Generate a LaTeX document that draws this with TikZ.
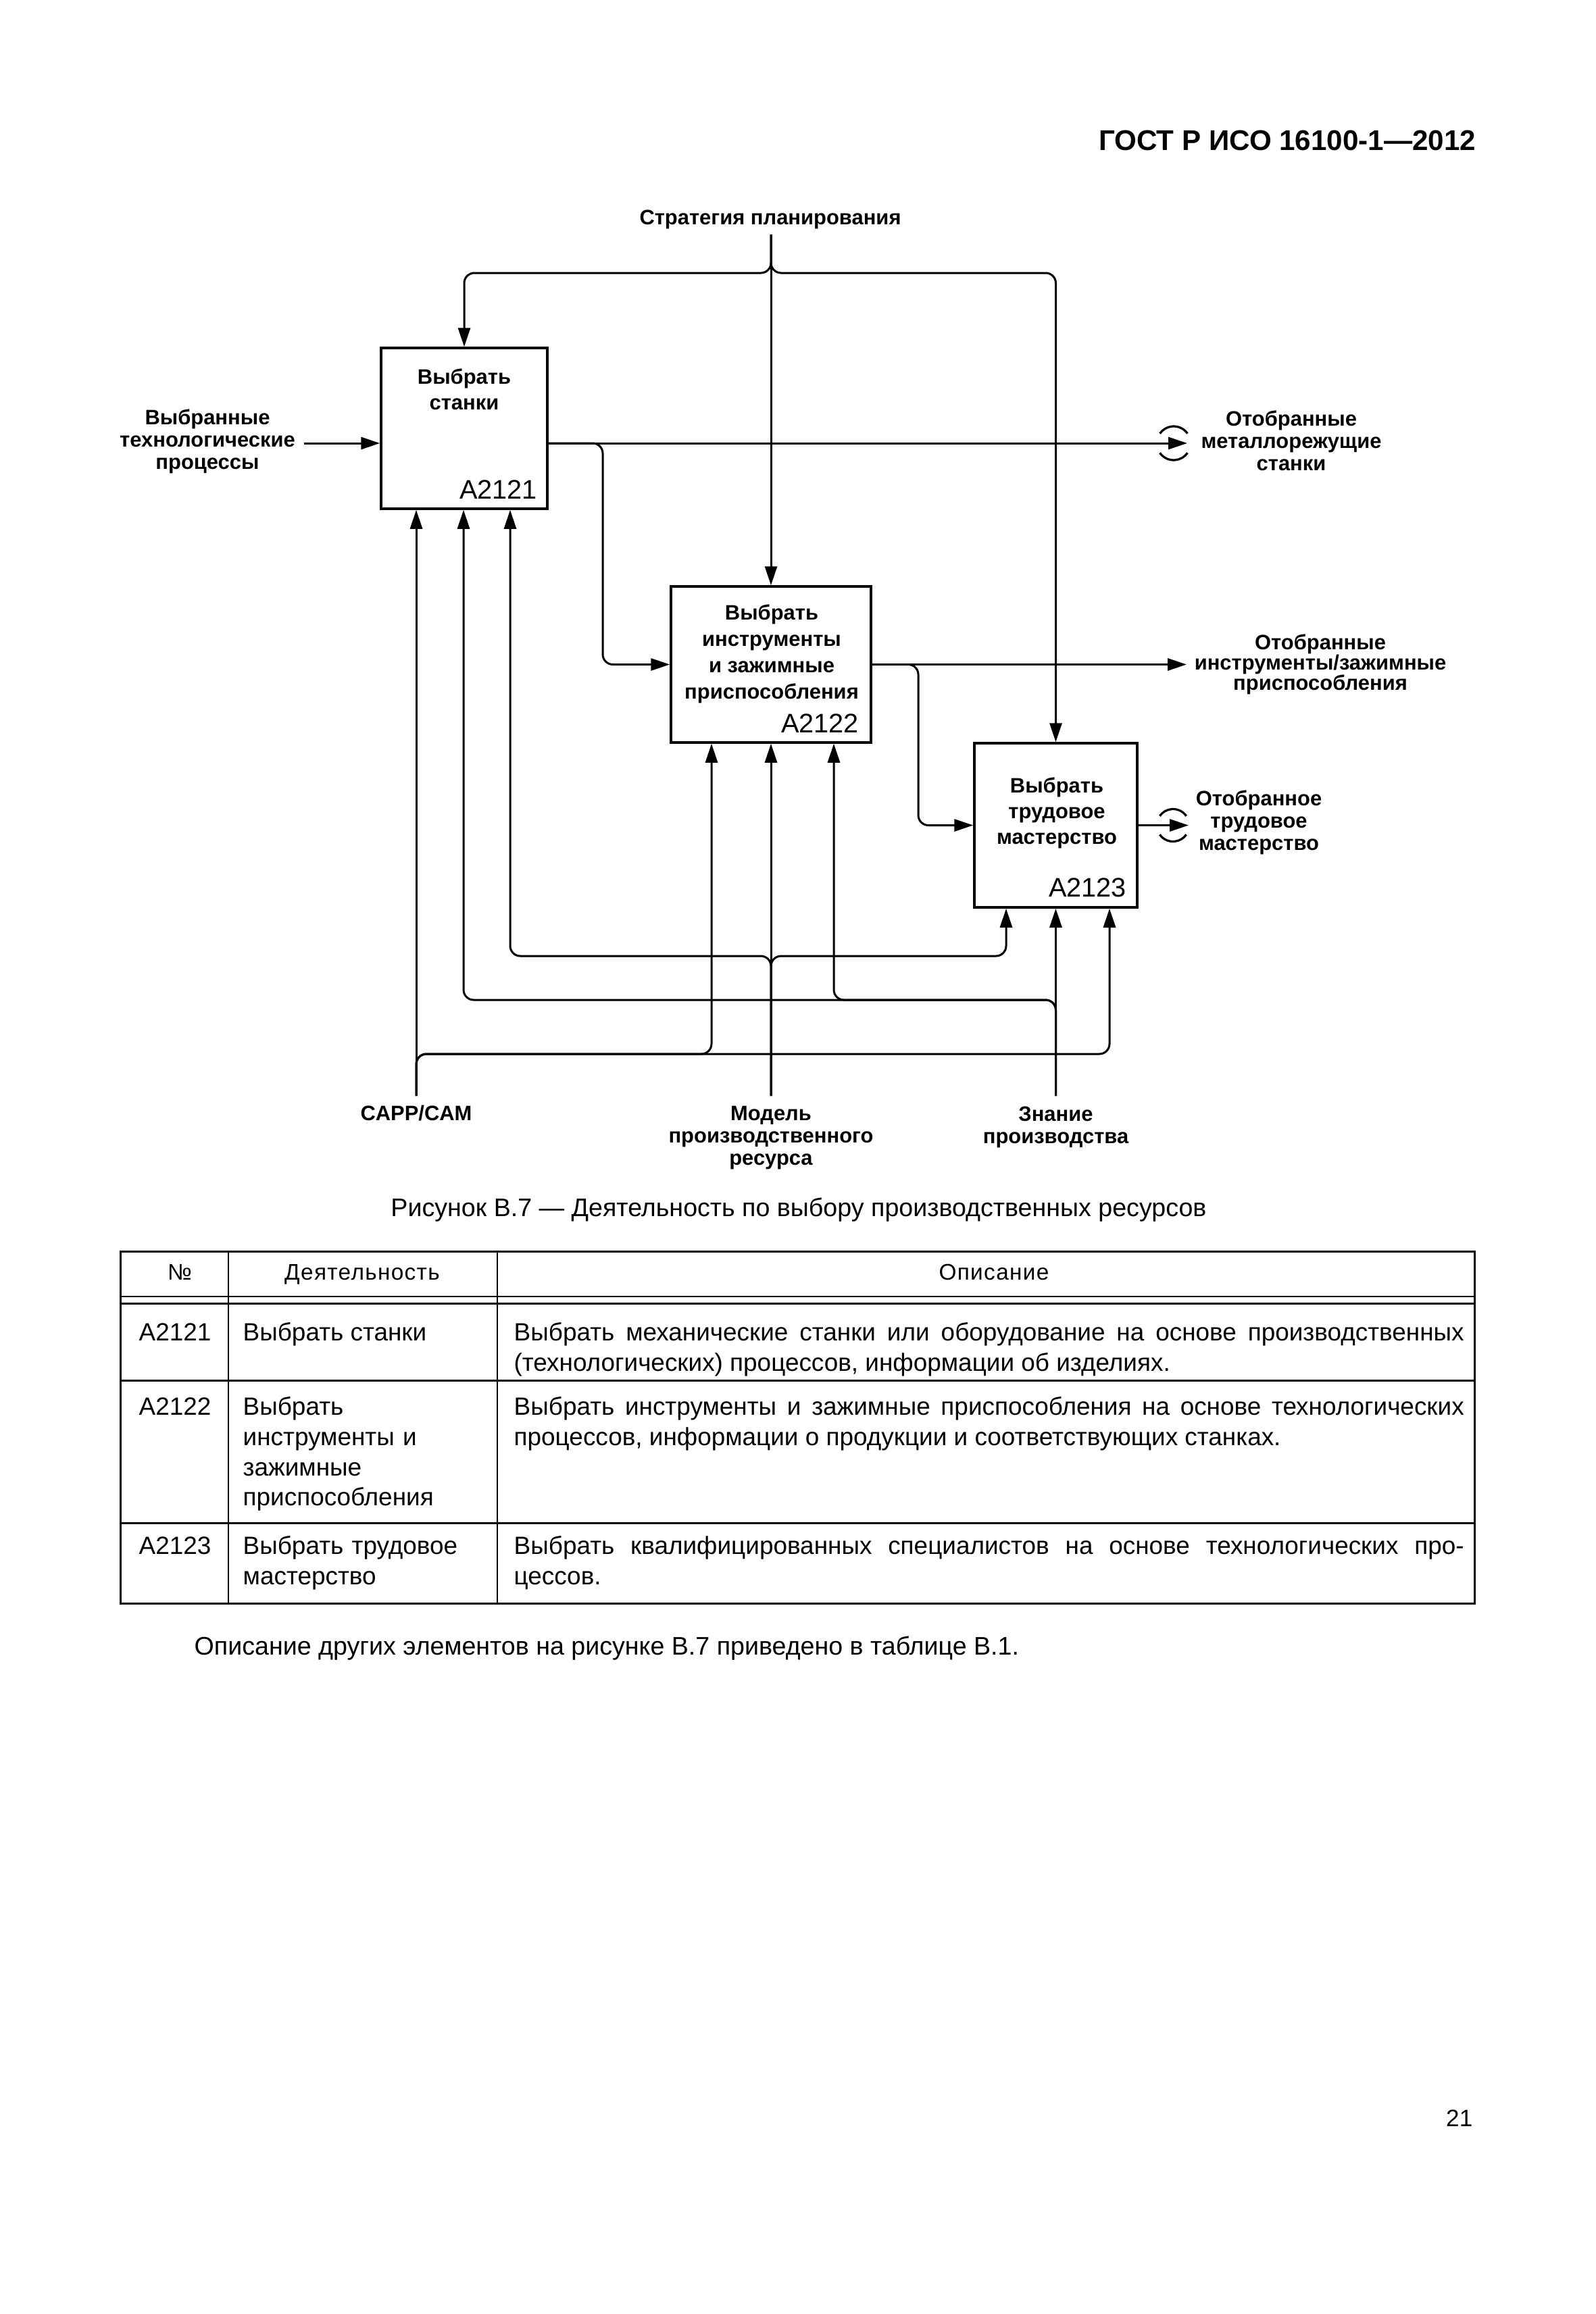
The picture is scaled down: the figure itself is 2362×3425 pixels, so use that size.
\documentclass[tikz,border=0pt]{standalone}
\usepackage{fontspec}
\setmainfont{Liberation Sans}
\usetikzlibrary{arrows.meta,calc}
\begin{document}
\begin{tikzpicture}[x=0.1mm,y=-0.1mm,
  conn/.style={line width=0.3mm, rounded corners=1.5mm},
  arr/.style={conn, -{Triangle[length=2.8mm,width=1.8mm]}},
  box/.style={draw, line width=0.35mm, inner sep=0},
  dlab/.style={font=\bfseries\fontsize{8.8}{9.4}\selectfont, align=center, inner sep=0},
  btxt/.style={font=\bfseries\fontsize{8.8}{10.8}\selectfont, align=center, inner sep=0},
  bid/.style={font=\fontsize{11.3}{12}\selectfont, inner sep=0, anchor=base east},
  tunnel/.style={line width=0.32mm},
  tb/.style={font=\fontsize{10.5}{12.8}\selectfont, inner sep=0, anchor=base west, align=left},
  tmulti/.style={tb, text width=36mm},
  thd/.style={font=\fontsize{9.5}{11}\selectfont\addfontfeatures{LetterSpace=4}, inner sep=0, anchor=base},
  tdesc/.style={tb, text width=140.6mm, align=justify},
  tline/.style={line width=0.2mm},
  tbold/.style={line width=0.3mm}]
\useasboundingbox (0,0) rectangle (2362,3425);
\fill[white] (0,0) rectangle (2362,3425);

% header
\node[font=\bfseries\fontsize{12}{14}\selectfont, inner sep=0, anchor=base east] (hdr) at (2185,222) {ГОСТ Р ИСО 16100-1—2012};

% boxes
\node[box, minimum width=24.6mm, minimum height=23.8mm] (b1) at (687,634) {};
\node[box, minimum width=29.6mm, minimum height=23.1mm] (b2) at (1141,983.5) {};
\node[box, minimum width=24.1mm, minimum height=24.3mm] (b3) at (1562.5,1221.5) {};

\node[btxt] (t1) at (687,576) {Выбрать\\станки};
\node[btxt, font=\bfseries\fontsize{8.8}{11.1}\selectfont] (t2) at (1142,968) {Выбрать\\инструменты\\и зажимные\\приспособления};
\node[btxt] (t3) at (1564,1203) {Выбрать\\трудовое\\мастерство};

\node[bid] (id1) at ($(b1.south east)+(-16,-16)$) {A2121};
\node[bid] (id2) at ($(b2.south east)+(-19,-16)$) {A2122};
\node[bid] (id3) at ($(b3.south east)+(-17,-17)$) {A2123};

% coordinates
\coordinate (strat) at (1141,347);
\coordinate (sL) at (687,404);
\coordinate (sR) at (1562.5,404);
\coordinate (inp) at (450,656);
\coordinate (o1) at (1757,656);
\coordinate (br1) at (892,656);
\coordinate (o2) at (1756,983.5);
\coordinate (br2) at (1359,983.5);
\coordinate (o3) at (1759,1221.5);
\coordinate (capp) at (616,1622);
\coordinate (model) at (1141,1622);
\coordinate (zn) at (1562.5,1622);
\coordinate (mL) at (755,1415);
\coordinate (mR) at (1489,1415);
\coordinate (zL) at (686,1480);
\coordinate (zM) at (1234,1480);
\coordinate (cM) at (1053,1560);
\coordinate (cR) at (1642,1560);
\coordinate (tn1) at (1737,656);
\coordinate (tn3) at (1736,1221.5);

% labels
\node[dlab, anchor=base] (lstrat) at (1140,332) {Стратегия планирования};
\node[dlab] (linp) at (307,653) {Выбранные\\технологические\\процессы};
\node[dlab] (lo1) at (1911,652) {Отобранные\\металлорежущие\\станки};
\node[dlab, font=\bfseries\fontsize{8.8}{8.6}\selectfont] (lo2) at (1954,983.5) {Отобранные\\инструменты/зажимные\\приспособления};
\node[dlab] (lo3) at (1863,1217) {Отобранное\\трудовое\\мастерство};
\node[dlab, anchor=base] (lcapp) at (616,1658) {CAPP/CAM};
\node[dlab] (lmodel) at (1141,1684) {Модель\\производственного\\ресурса};
\node[dlab] (lzn) at (1562.5,1668) {Знание\\производства};

% strategy (control)
\draw[arr] (strat) -- (b2.north);
\draw[arr] (strat) -- (strat |- sL) -- (sL) -- (b1.north);
\draw[arr] (strat) -- (strat |- sR) -- (sR) -- (b3.north);

% input
\draw[arr] (inp) -- (inp -| b1.west);

% outputs
\draw[arr] (b1.east |- o1) -- (o1);
\draw[arr] (b1.east |- o1) -- (br1) -- (br1 |- b2.west) -- (b2.west);
\draw[arr] (b2.east) -- (o2);
\draw[arr] (b2.east) -- (br2) -- (br2 |- b3.west) -- (b3.west);
\draw[arr] (b3.east) -- (o3);

% tunnels
\draw[tunnel] ($(tn1)+(35:2.5mm)$) arc[start angle=35, end angle=145, radius=2.5mm];
\draw[tunnel] ($(tn1)+(215:2.5mm)$) arc[start angle=215, end angle=325, radius=2.5mm];
\draw[tunnel] ($(tn3)+(35:2.4mm)$) arc[start angle=35, end angle=145, radius=2.4mm];
\draw[tunnel] ($(tn3)+(215:2.4mm)$) arc[start angle=215, end angle=325, radius=2.4mm];

% CAPP/CAM
\draw[arr] (capp) -- (capp |- b1.south);
\draw[arr] (capp) -- (capp |- cM) -- (cM) -- (cM |- b2.south);
\draw[arr] (capp) -- (capp |- cR) -- (cR) -- (cR |- b3.south);

% model
\draw[arr] (model) -- (b2.south);
\draw[arr] (model) -- (model |- mL) -- (mL) -- (mL |- b1.south);
\draw[arr] (model) -- (model |- mR) -- (mR) -- (mR |- b3.south);

% knowledge
\draw[arr] (zn) -- (b3.south);
\draw[arr] (zn) -- (zn |- zL) -- (zL) -- (zL |- b1.south);
\draw[arr] (zn) -- (zn |- zM) -- (zM) -- (zM |- b2.south);

% caption
\node[font=\fontsize{10.7}{12}\selectfont, inner sep=0, anchor=base] (cap) at (1182,1800) {Рисунок В.7 — Деятельность по выбору производственных ресурсов};

% table
\draw[tbold] (178,1852) rectangle (2182,2373);
\draw[tline] (338,1852) -- (338,2373);
\draw[tline] (736,1852) -- (736,2373);
\draw[tline] (178,1919) -- (2182,1919);
\draw[tbold] (178,1929) -- (2182,1929);
\draw[tbold] (178,2043) -- (2182,2043);
\draw[tbold] (178,2254) -- (2182,2254);

\node[thd] (h1) at (266,1894) {№};
\node[thd] (h2) at (536,1894) {Деятельность};
\node[thd] (h3) at (1471,1894) {Описание};

\node[tb] (r1a) at (205,1984) {A2121};
\node[tb] (r1b) at (359,1984) {Выбрать станки};
\node[tdesc] (r1c) at (760,1984) {Выбрать механические станки или оборудование на основе производственных\linebreak (технологических) процессов, информации об изделиях.};

\node[tb] (r2a) at (205,2094) {A2122};
\node[tmulti] (r2b) at (359,2094) {Выбрать\\инструменты и\\зажимные\\приспособления};
\node[tdesc] (r2c) at (760,2094) {Выбрать инструменты и зажимные приспособления на основе технологических\linebreak процессов, информации о продукции и соответствующих станках.};

\node[tb] (r3a) at (205,2300) {A2123};
\node[tmulti] (r3b) at (359,2300) {Выбрать трудовое\\мастерство};
\node[tdesc] (r3c) at (760,2300) {Выбрать квалифицированных специалистов на основе технологических про-\linebreak цессов.};

\node[font=\fontsize{10.7}{12}\selectfont, inner sep=0, anchor=base west] (foot) at (287,2449) {Описание других элементов на рисунке В.7 приведено в таблице В.1.};

\node[font=\fontsize{10}{12}\selectfont, inner sep=0, anchor=base east] (pg) at (2180,3147) {21};
\end{tikzpicture}
\end{document}
